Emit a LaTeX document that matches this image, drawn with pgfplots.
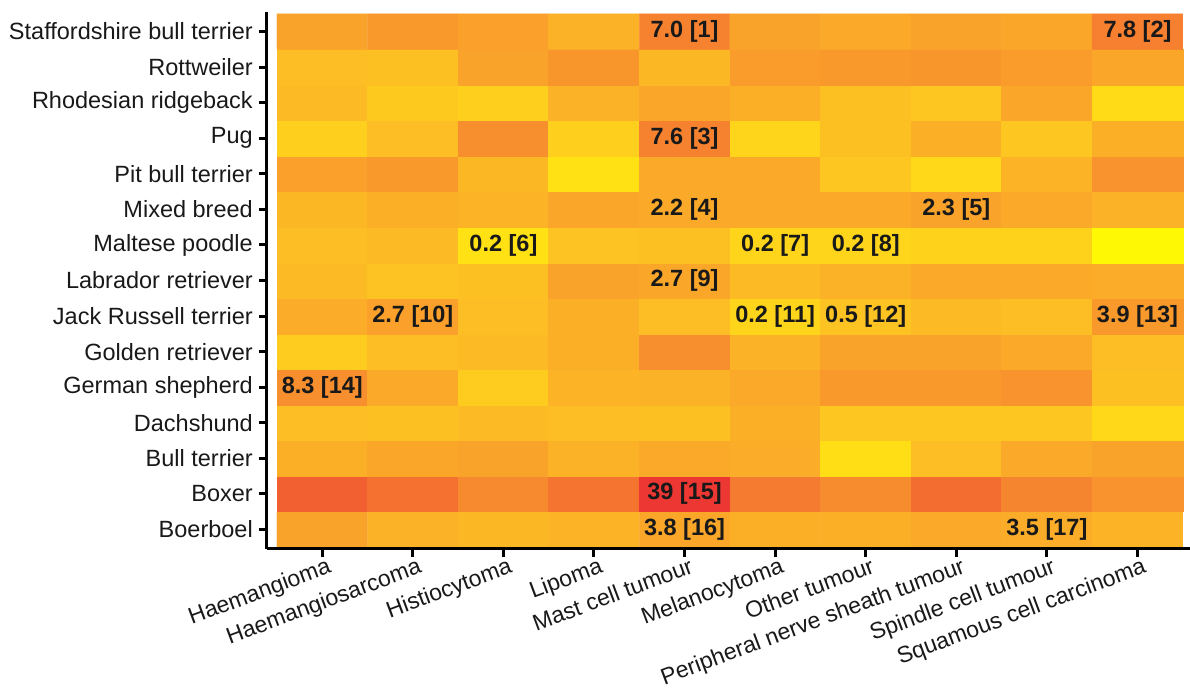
\documentclass[border=0pt]{standalone}
\usepackage{pgfplots}
\usepackage{pgfplotstable}
\pgfplotsset{compat=1.18}
\usepackage{fontspec}
\setmainfont{Liberation Sans}
\pgfplotstableread{
x y c
0 0 3.0
1 0 2.5
2 0 2.3
3 0 2.4
4 0 2.9
5 0 2.6
6 0 2.6
7 0 2.8
8 0 2.7
9 0 2.4
0 1 5.0
1 1 4.5
2 1 3.8
3 1 4.4
4 1 5.8
5 1 4.2
6 1 3.7
7 1 4.6
8 1 3.9
9 1 3.5
0 2 2.6
1 2 2.9
2 2 3.0
3 2 2.5
4 2 2.8
5 2 2.7
6 2 1.0
7 2 2.1
8 2 2.8
9 2 3.0
0 3 2.1
1 3 2.0
2 3 2.2
3 3 2.1
4 3 2.0
5 3 2.6
6 3 1.8
7 3 1.8
8 3 1.8
9 3 1.2
0 4 3.6
1 4 2.8
2 4 1.6
3 4 2.4
4 4 2.5
5 4 2.8
6 4 3.3
7 4 3.3
8 4 3.5
9 4 2.0
0 5 1.6
1 5 2.1
2 5 2.2
3 5 2.6
4 5 3.6
5 5 2.5
6 5 3.0
7 5 3.0
8 5 2.8
9 5 2.1
0 6 2.7
1 6 3.1
2 6 2.1
3 6 2.6
4 6 2.1
5 6 1.3
6 6 1.9
7 6 2.2
8 6 2.1
9 6 3.3
0 7 2.2
1 7 1.9
2 7 2.0
3 7 3.0
4 7 2.9
5 7 2.2
6 7 2.5
7 7 2.8
8 7 2.8
9 7 2.7
0 8 2.1
1 8 2.2
2 8 0.9
3 8 1.9
4 8 2.0
5 8 1.3
6 8 1.3
7 8 1.4
8 8 1.4
9 8 0.2
0 9 2.3
1 9 2.6
2 9 2.4
3 9 2.9
4 9 2.8
5 9 2.8
6 9 2.8
7 9 3.0
8 9 2.8
9 9 2.5
0 10 3.1
1 10 3.3
2 10 2.3
3 10 0.9
4 10 2.8
5 10 2.8
6 10 1.8
7 10 1.2
8 10 2.4
9 10 3.5
0 11 1.5
1 11 2.1
2 11 3.6
3 11 1.5
4 11 4.0
5 11 1.3
6 11 2.0
7 11 2.6
8 11 1.8
9 11 2.6
0 12 2.2
1 12 1.7
2 12 1.5
3 12 2.5
4 12 2.9
5 12 2.6
6 12 2.0
7 12 1.8
8 12 2.9
9 12 1.1
0 13 2.1
1 13 2.0
2 13 3.0
3 13 3.4
4 13 2.3
5 13 3.2
6 13 3.3
7 13 3.4
8 13 3.2
9 13 2.9
0 14 3.0
1 14 3.3
2 14 3.1
3 14 2.5
4 14 4.0
5 14 3.0
6 14 2.8
7 14 3.0
8 14 2.9
9 14 4.1
}\heat
\pgfplotstableread[col sep=comma]{
x,y,lab
4,14,7.0 [1]
9,14,7.8 [2]
4,11,7.6 [3]
4,9,2.2 [4]
7,9,2.3 [5]
2,8,0.2 [6]
5,8,0.2 [7]
6,8,0.2 [8]
4,7,2.7 [9]
1,6,2.7 [10]
5,6,0.2 [11]
6,6,0.5 [12]
9,6,3.9 [13]
0,4,8.3 [14]
4,1,39 [15]
4,0,3.8 [16]
8,0,3.5 [17]
}\labs
\begin{document}
\begin{tikzpicture}
\begin{axis}[
  name=ax,
  scale only axis,
  width=923pt, height=537pt,
  xmin=-0.61, xmax=9.58,
  ymin=-0.55, ymax=14.55,
  enlargelimits=false,
  axis x line*=bottom, axis y line*=left,
  axis line style={-, line width=3pt, black},
  x axis line style={-}, y axis line style={-},
  tick align=outside,
  major tick length=8pt,
  tick style={line width=3pt, black},
  xtick={0,...,9}, ytick={0,...,14},
  xticklabels={Haemangioma,Haemangiosarcoma,Histiocytoma,Lipoma,Mast cell tumour,Melanocytoma,Other tumour,Peripheral nerve sheath tumour,Spindle cell tumour,Squamous cell carcinoma},
  yticklabels={Boerboel,Boxer,Bull terrier,Dachshund,German shepherd,Golden retriever,Jack Russell terrier,Labrador retriever,Maltese poodle,Mixed breed,Pit bull terrier,Pug,Rhodesian ridgeback,Rottweiler,Staffordshire bull terrier},
  ticklabel style={font=\fontsize{23.5}{27}\selectfont, text=black!90},
  xticklabel style={font=\fontsize{23}{26}\selectfont, rotate=20.5, anchor=north east, inner sep=0pt, yshift=-1pt, xshift=4pt},
  yticklabel style={anchor=east, inner sep=0pt, xshift=-6pt},
  colormap={heat}{rgb255(0)=(255,255,0); rgb255(1)=(255,222,22); rgb255(2)=(253,192,35); rgb255(3)=(250,163,42); rgb255(4)=(246,130,48); rgb255(5)=(242,95,48); rgb255(6)=(235,45,50)},
  point meta min=0, point meta max=6,
  axis on top,
]
\addplot[matrix plot*, mesh/cols=10, point meta=explicit] table[x=x, y=y, meta=c] {\heat};
\addplot[only marks, mark=none, point meta=explicit symbolic,
  nodes near coords,
  nodes near coords style={anchor=center, font=\fontsize{23.5}{27}\selectfont\bfseries, text=black!90, inner sep=0pt}]
  table[x=x, y=y, meta=lab] {\labs};
\end{axis}
\pgfresetboundingbox
\path[use as bounding box] ([xshift=-267pt, yshift=-144pt]ax.south west) rectangle ([yshift=12pt]ax.north east);
\end{tikzpicture}
\end{document}
